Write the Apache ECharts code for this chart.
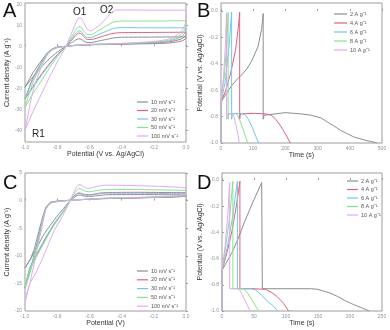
<!DOCTYPE html>
<html>
<head>
<meta charset="utf-8">
<script src="https://cdn.jsdelivr.net/npm/echarts@6/dist/echarts.min.js"></script>
<style>
  html, body { margin: 0; padding: 0; background: #fff; }
  #chart { width: 390px; height: 330px; }
</style>
</head>
<body>
<div id="chart"></div>
<script>
// legend names
const scanRates = ['10 mV s⁻¹', '20 mV s⁻¹', '30 mV s⁻¹', '50 mV s⁻¹', '100 mV s⁻¹'];
const currents = ['2 A g⁻¹', '4 A g⁻¹', '6 A g⁻¹', '8 A g⁻¹', '10 A g⁻¹'];
const colors = ['#87918f', '#e0607f', '#72c6e4', '#86e486', '#e2a8f4'];

// tick labels
const potTicks = [-1.0, -0.8, -0.6, -0.4, -0.2, 0.0];
const currentTicksA = [-40, -30, -20, -10, 0, 10, 20];
const currentTicksC = [-20, -15, -10, -5, 0, 5];
const timeTicksB = [0, 100, 200, 300, 400, 500];
const timeTicksD = [0, 50, 100, 150, 200, 250];

// panel A: CV, [potential V, current density A/g]
const cvA10 = [[-1, -19.5], [-0.95, -14.5], [-0.9, -10], [-0.85, -6], [-0.8, -2.8], [-0.745, 0], [-0.71, 1.8], [-0.685, 3.0], [-0.665, 3.6], [-0.65, 3.3], [-0.635, 2.5], [-0.615, 1.8], [-0.59, 1.8], [-0.55, 2.4], [-0.5, 3.2], [-0.45, 4.0], [-0.4, 4.3], [-0.2, 4.4], [0, 4.5],
  [0, 3.8], [-0.03, 2.5], [-0.1, 1.6], [-0.2, 1.3], [-0.4, 1.0], [-0.6, 0.7], [-0.7, 0.3], [-0.745, 0], [-0.8, -0.4], [-0.83, -1.2], [-0.86, -3], [-0.9, -7], [-0.95, -12.5], [-1, -19.5]];
const cvA20 = [[-1, -25], [-0.95, -19], [-0.9, -13.5], [-0.85, -8.5], [-0.8, -4], [-0.745, 0], [-0.71, 3], [-0.685, 5.2], [-0.665, 6.3], [-0.65, 5.9], [-0.635, 4.6], [-0.615, 3.3], [-0.59, 3.2], [-0.55, 4.0], [-0.5, 5.2], [-0.45, 6.2], [-0.4, 6.5], [-0.2, 6.6], [0, 6.7],
  [0, 5.5], [-0.03, 3.5], [-0.1, 2.2], [-0.2, 1.6], [-0.4, 1.1], [-0.6, 0.8], [-0.7, 0.4], [-0.745, 0], [-0.8, -0.5], [-0.83, -1.4], [-0.86, -3.3], [-0.9, -8], [-0.95, -15], [-1, -25]];
const cvA30 = [[-1, -25], [-0.95, -19.5], [-0.9, -14], [-0.85, -9], [-0.8, -4.3], [-0.745, 0], [-0.71, 3.6], [-0.685, 6.2], [-0.665, 7.4], [-0.65, 7.0], [-0.635, 5.6], [-0.615, 4.2], [-0.59, 4.2], [-0.55, 5.4], [-0.5, 7], [-0.45, 8.5], [-0.4, 8.9], [-0.2, 8.8], [0, 8.8],
  [0, 7.5], [-0.03, 4.5], [-0.1, 2.6], [-0.2, 1.8], [-0.4, 1.2], [-0.6, 0.8], [-0.7, 0.4], [-0.745, 0], [-0.8, -0.5], [-0.83, -1.4], [-0.86, -3.3], [-0.9, -8.2], [-0.95, -15.5], [-1, -25]];
const cvA50 = [[-1, -29], [-0.95, -22.5], [-0.9, -16.5], [-0.85, -10.5], [-0.8, -5], [-0.745, 0], [-0.71, 4.6], [-0.685, 7.9], [-0.665, 9.4], [-0.65, 9.0], [-0.635, 7.4], [-0.615, 5.6], [-0.59, 5.5], [-0.55, 7.2], [-0.5, 9.5], [-0.45, 11.5], [-0.4, 12], [-0.2, 12], [0, 12.2],
  [0, 9.5], [-0.03, 5.5], [-0.1, 3], [-0.2, 2], [-0.4, 1.3], [-0.6, 0.9], [-0.7, 0.4], [-0.745, 0], [-0.8, -0.6], [-0.83, -1.5], [-0.86, -3.5], [-0.9, -8.8], [-0.95, -17], [-1, -29]];
const cvA100 = [[-1, -40], [-0.95, -31], [-0.9, -23], [-0.85, -15], [-0.8, -7.5], [-0.745, 0], [-0.71, 6.5], [-0.685, 11], [-0.665, 13.5], [-0.65, 13.3], [-0.635, 11.2], [-0.615, 8.3], [-0.595, 7.3], [-0.57, 8.2], [-0.53, 10.5], [-0.49, 13.8], [-0.46, 16.2], [-0.43, 17.3], [-0.38, 17.3], [-0.2, 17.2], [0, 17.2],
  [0, 12], [-0.03, 7], [-0.1, 3.6], [-0.2, 2.3], [-0.4, 1.4], [-0.6, 0.9], [-0.7, 0.4], [-0.745, 0], [-0.8, -0.7], [-0.83, -1.8], [-0.86, -4], [-0.9, -10], [-0.95, -21], [-1, -40]];

// panel B: GCD, [time s, potential V]
const gcdB2 = [[0, -1], [0, -0.69], [15, -0.63], [35, -0.56], [53, -0.51], [64, -0.485], [80, -0.44], [95, -0.38], [115, -0.27], [126, -0.14], [131, -0.02], [131, -0.82], [134, -0.79], [140, -0.775], [200, -0.77], [250, -0.78], [280, -0.79], [310, -0.81], [330, -0.84], [350, -0.87], [372, -0.905], [413, -0.955], [450, -0.98], [485, -1]];
const gcdB4 = [[0, -1], [0, -0.69], [15, -0.6], [30, -0.47], [45, -0.3], [54, -0.12], [58, -0.01], [58, -0.82], [60, -0.78], [100, -0.775], [140, -0.78], [156, -0.79], [170, -0.82], [185, -0.87], [200, -0.93], [215, -1]];
const gcdB6 = [[0, -1], [0, -0.69], [12, -0.55], [24, -0.3], [33, -0.01], [33, -0.82], [35, -0.78], [60, -0.775], [74, -0.785], [85, -0.82], [97, -0.88], [108, -0.95], [117, -1]];
const gcdB8 = [[0, -1], [0, -0.69], [10, -0.5], [18, -0.25], [22, -0.01], [22, -0.82], [24, -0.78], [45, -0.775], [52, -0.79], [62, -0.85], [72, -0.92], [83, -1]];
const gcdB10 = [[0, -1], [0, -0.69], [8, -0.5], [14, -0.25], [17, -0.02], [17, -0.82], [19, -0.78], [35, -0.775], [40, -0.8], [46, -0.86], [52, -0.93], [57, -1]];

// panel C: CV, [potential V, current density A/g]
const cvC10 = [[-1, -12.2], [-0.95, -9.8], [-0.88, -6], [-0.8, -2.8], [-0.76, -1.4], [-0.72, 0], [-0.7, 0.45], [-0.68, 0.85], [-0.665, 1.0], [-0.65, 0.95], [-0.63, 0.8], [-0.6, 0.75], [-0.55, 0.9], [-0.5, 1.05], [-0.3, 1.1], [-0.1, 1.05], [0, 1.0],
  [0, 0.8], [-0.1, 0.6], [-0.3, 0.5], [-0.5, 0.35], [-0.7, 0.1], [-0.8, -0.1], [-0.84, -0.3], [-0.87, -1.2], [-0.9, -4], [-0.94, -8.5], [-0.97, -10.8], [-1, -12.2]];
const cvC20 = [[-1, -15.8], [-0.97, -12.3], [-0.93, -10], [-0.87, -6.8], [-0.82, -4.3], [-0.77, -2.3], [-0.74, -1], [-0.72, 0], [-0.7, 0.7], [-0.68, 1.2], [-0.665, 1.4], [-0.65, 1.3], [-0.63, 1.1], [-0.6, 1.05], [-0.55, 1.3], [-0.5, 1.45], [-0.3, 1.5], [-0.1, 1.45], [0, 1.4],
  [0, 0.9], [-0.1, 0.7], [-0.3, 0.5], [-0.5, 0.4], [-0.7, 0.1], [-0.8, -0.15], [-0.84, -0.4], [-0.87, -1.4], [-0.9, -4.8], [-0.94, -9.5], [-0.97, -12.8], [-1, -15.8]];
const cvC30 = [[-1, -15.8], [-0.97, -12.2], [-0.93, -9.8], [-0.87, -6.6], [-0.82, -4.2], [-0.77, -2.2], [-0.74, -1], [-0.72, 0], [-0.7, 0.65], [-0.68, 1.1], [-0.665, 1.3], [-0.65, 1.2], [-0.63, 1.0], [-0.6, 0.97], [-0.55, 1.2], [-0.5, 1.35], [-0.3, 1.35], [-0.1, 1.3], [0, 1.3],
  [0, 0.9], [-0.1, 0.7], [-0.3, 0.5], [-0.5, 0.4], [-0.7, 0.1], [-0.8, -0.15], [-0.84, -0.4], [-0.87, -1.4], [-0.9, -4.8], [-0.94, -9.6], [-0.97, -12.9], [-1, -15.8]];
const cvC50 = [[-1, -16], [-0.97, -12.6], [-0.93, -10.3], [-0.87, -7], [-0.82, -4.5], [-0.77, -2.4], [-0.74, -1], [-0.72, 0], [-0.7, 1.0], [-0.68, 1.8], [-0.665, 2.2], [-0.65, 2.1], [-0.63, 1.75], [-0.6, 1.6], [-0.55, 1.85], [-0.5, 2.0], [-0.3, 2.0], [-0.1, 1.9], [0, 1.8],
  [0, 1.0], [-0.1, 0.75], [-0.3, 0.55], [-0.5, 0.42], [-0.7, 0.1], [-0.8, -0.18], [-0.84, -0.45], [-0.87, -1.5], [-0.9, -5], [-0.94, -10], [-0.97, -13.2], [-1, -16]];
const cvC100 = [[-1, -18.3], [-0.97, -15], [-0.93, -13], [-0.87, -9], [-0.82, -5.5], [-0.77, -3], [-0.74, -1.2], [-0.72, 0], [-0.7, 1.3], [-0.68, 2.4], [-0.665, 2.9], [-0.65, 2.8], [-0.63, 2.4], [-0.61, 2.2], [-0.58, 2.35], [-0.54, 2.65], [-0.5, 2.8], [-0.3, 2.7], [-0.1, 2.5], [0, 2.2],
  [0, 1.2], [-0.1, 0.8], [-0.3, 0.6], [-0.5, 0.45], [-0.7, 0.1], [-0.8, -0.2], [-0.84, -0.5], [-0.87, -1.6], [-0.9, -5.5], [-0.94, -11], [-0.97, -15], [-1, -18.3]];

// panel D: GCD, [time s, potential V]
const gcdD2 = [[0, -1], [0, -0.69], [8, -0.62], [15, -0.56], [25, -0.45], [36, -0.31], [50, -0.15], [62, -0.02], [63, -0.83], [100, -0.83], [140, -0.83], [150, -0.835], [160, -0.85], [170, -0.865], [181, -0.89], [192, -0.92], [205, -0.95], [218, -0.975], [230, -1]];
const gcdD4 = [[0, -1], [0, -0.69], [8, -0.55], [16, -0.38], [23, -0.18], [28, -0.01], [28, -0.83], [50, -0.83], [68, -0.835], [78, -0.86], [86, -0.89], [96, -0.94], [104, -1]];
const gcdD6 = [[0, -1], [0, -0.69], [8, -0.52], [16, -0.3], [24, -0.01], [24, -0.83], [45, -0.83], [53, -0.84], [62, -0.88], [72, -0.93], [80, -0.96], [87, -1]];
const gcdD8 = [[0, -1], [0, -0.69], [6, -0.5], [12, -0.28], [17, -0.01], [17, -0.83], [33, -0.83], [38, -0.85], [45, -0.9], [51, -0.95], [57, -1]];
const gcdD10 = [[0, -1], [0, -0.69], [5, -0.5], [9, -0.27], [12, -0.02], [12, -0.83], [26, -0.83], [30, -0.86], [35, -0.91], [40, -0.96], [44, -1]];

const cvA = [cvA10, cvA20, cvA30, cvA50, cvA100];
const gcdB = [gcdB2, gcdB4, gcdB6, gcdB8, gcdB10];
const cvC = [cvC10, cvC20, cvC30, cvC50, cvC100];
const gcdD = [gcdD2, gcdD4, gcdD6, gcdD8, gcdD10];

const font = 'Liberation Sans, Arial, sans-serif';
const labelColor = '#8a979c';
const frameColor = '#9c9c9c';

function valueAxis(grid, min, max, ticks, name, gap, fmt) {
  return {
    type: 'value', gridIndex: grid, min: min, max: max,
    name: name, nameLocation: 'middle', nameGap: gap,
    nameTextStyle: { fontFamily: font, fontSize: 7, color: '#333' },
    axisLine: { show: false },
    axisTick: { inside: true, length: 2, customValues: ticks, lineStyle: { color: frameColor } },
    axisLabel: { customValues: ticks, fontFamily: font, fontSize: 5, color: labelColor, margin: 3, formatter: fmt },
    splitLine: { show: false }
  };
}
const oneDecimal = v => v.toFixed(1);
const plain = v => String(v);

function lineSeries(names, datasets, axis) {
  return datasets.map((d, i) => ({
    type: 'line', name: names[i], data: d,
    xAxisIndex: axis, yAxisIndex: axis,
    symbol: 'none', smooth: axis % 2 === 0 ? 0.2 : false,
    lineStyle: { width: 1, color: colors[i] }, itemStyle: { color: colors[i] },
    z: 2 + i
  }));
}

function legend(names, left, top, itemWidth, gap) {
  return {
    data: names, orient: 'vertical', left: left, top: top,
    icon: 'rect', itemWidth: itemWidth, itemHeight: 1.2, itemGap: gap, padding: 0,
    selectedMode: false,
    textStyle: { fontFamily: font, fontSize: 5.5, color: '#555', lineHeight: 5, padding: [0, 0, 0, -2] }
  };
}

function letter(txt, x, y) {
  return { type: 'text', left: x, top: y, style: { text: txt, fontFamily: font, fontSize: 20, fill: '#111' } };
}
function note(txt, x, y) {
  return { type: 'text', left: x, top: y, style: { text: txt, fontFamily: font, fontSize: 10, fill: '#222' } };
}

const chart = echarts.init(document.getElementById('chart'), null, { renderer: 'canvas' });
chart.setOption({
  animation: false,
  backgroundColor: '#fff',
  grid: [
    { left: 25, top: 3, width: 161, height: 139, show: true, borderColor: frameColor, borderWidth: 1 },
    { left: 221, top: 3, width: 161, height: 140, show: true, borderColor: frameColor, borderWidth: 1 },
    { left: 25, top: 173, width: 161, height: 138, show: true, borderColor: frameColor, borderWidth: 1 },
    { left: 222, top: 173, width: 160, height: 138, show: true, borderColor: frameColor, borderWidth: 1 }
  ],
  xAxis: [
    valueAxis(0, -1, 0, potTicks, 'Potential (V vs. Ag/AgCl)', 9, oneDecimal),
    valueAxis(1, 0, 500, timeTicksB, 'Time (s)', 8, plain),
    valueAxis(2, -1, 0, potTicks, 'Potential (V)', 8, oneDecimal),
    valueAxis(3, 0, 250, timeTicksD, 'Time (s)', 8, plain)
  ],
  yAxis: [
    valueAxis(0, -45.5, 20.6, currentTicksA, 'Current density (A g⁻¹)', 13, plain),
    valueAxis(1, -1, 0.06, potTicks, 'Potential (V vs. Ag/AgCl)', 17, oneDecimal),
    valueAxis(2, -20, 5, currentTicksC, 'Current density (A g⁻¹)', 13, plain),
    valueAxis(3, -1, 0.053, potTicks, 'Potential (V vs. Ag/AgCl)', 18, oneDecimal)
  ],
  legend: [
    legend(scanRates, 137, 99, 11, 2.5),
    legend(currents, 334, 11, 13, 3),
    legend(scanRates, 137, 268, 11, 2.8),
    legend(currents, 347, 178, 11, 2.5)
  ],
  graphic: [
    letter('A', 3, 1), letter('B', 197, 1), letter('C', 3, 173), letter('D', 197, 173),
    note('O1', 73, 7), note('O2', 100, 5), note('R1', 32, 129)
  ],
  series: [].concat(
    lineSeries(scanRates, cvA, 0),
    lineSeries(currents, gcdB, 1),
    lineSeries(scanRates, cvC, 2),
    lineSeries(currents, gcdD, 3)
  )
});
</script>
</body>
</html>
